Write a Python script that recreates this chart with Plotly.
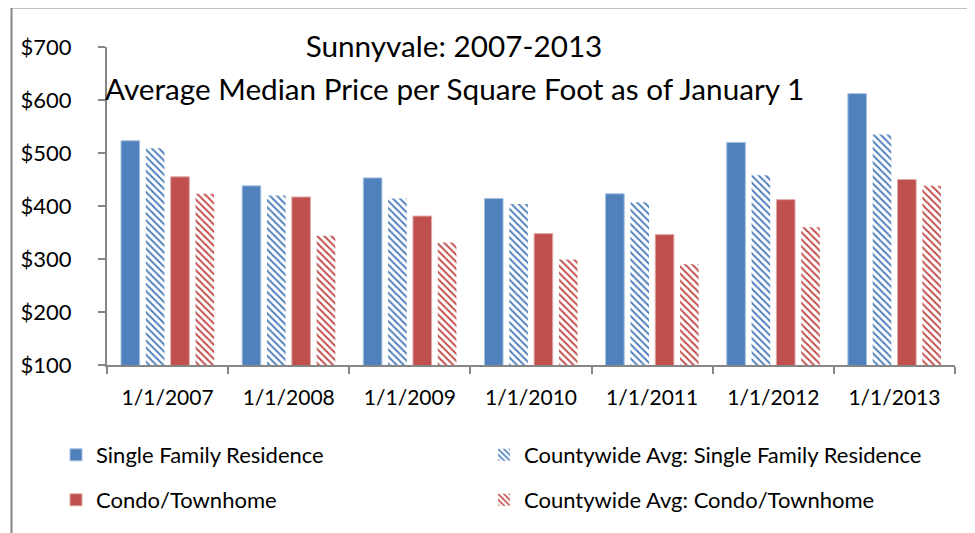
import plotly.graph_objects as go

categories = ["1/1/2007", "1/1/2008", "1/1/2009", "1/1/2010", "1/1/2011", "1/1/2012", "1/1/2013"]
sfr = [523, 438, 453, 414, 423, 520, 612]
county_sfr = [509, 420, 414, 404, 407, 458, 535]
condo = [455, 417, 381, 348, 346, 412, 450]
county_condo = [423, 344, 331, 299, 290, 360, 438]
y_ticks = [100, 200, 300, 400, 500, 600, 700]
y_tick_labels = ["$100", "$200", "$300", "$400", "$500", "$600", "$700"]

BLUE = "#4F81BD"
RED = "#C0504D"
GRAY = "#868686"
FONT = "Lato"

fig = go.Figure()
fig.add_trace(go.Bar(
    x=categories, y=sfr, name="Single Family Residence",
    marker=dict(color=BLUE, line=dict(color="#A7C0DE", width=1)),
    legend="legend",
))
fig.add_trace(go.Bar(
    x=categories, y=county_sfr, name="Countywide Avg: Single Family Residence",
    marker=dict(color=BLUE, line=dict(width=0),
                pattern=dict(shape="\\", fgcolor=BLUE, bgcolor="white",
                             size=5, solidity=0.4, fillmode="replace")),
    legend="legend3",
))
fig.add_trace(go.Bar(
    x=categories, y=condo, name="Condo/Townhome",
    marker=dict(color=RED, line=dict(color="#E0A9A7", width=1)),
    legend="legend2",
))
fig.add_trace(go.Bar(
    x=categories, y=county_condo, name="Countywide Avg: Condo/Townhome",
    marker=dict(color=RED, line=dict(width=0),
                pattern=dict(shape="\\", fgcolor=RED, bgcolor="white",
                             size=5, solidity=0.4, fillmode="replace")),
    legend="legend4",
))

# page body has an 8px default margin; work in window pixels and shift
OFF = 8
W, H = 975 - OFF, 533 - OFF
L, R, T, B = 107 - OFF, 20, 47 - OFF, 168
pw, ph = W - L - R, H - T - B

def px_x(p):
    return (p - OFF - L) / pw

def px_y(p):
    return (H - B - (p - OFF)) / ph

legend_common = dict(
    orientation="h", xanchor="left", yanchor="middle",
    font=dict(family=FONT, size=22, color="black"),
    bgcolor="rgba(0,0,0,0)",
)

fig.update_layout(
    width=W, height=H,
    margin=dict(l=L, r=R, t=T, b=B, autoexpand=False),
    paper_bgcolor="white", plot_bgcolor="white",
    font=dict(family=FONT, size=21, color="black"),
    barmode="group", bargap=0.18, bargroupgap=0.25,
    showlegend=True,
    legend=dict(x=px_x(56), y=px_y(455), **legend_common),
    legend2=dict(x=px_x(56), y=px_y(500), **legend_common),
    legend3=dict(x=px_x(484), y=px_y(455), **legend_common),
    legend4=dict(x=px_x(484), y=px_y(500), **legend_common),
    title=dict(text="Sunnyvale: 2007-2013", x=(L + px_x(454) * pw) / W,
               xanchor="center", y=1 - (47 - OFF) / H, yanchor="middle",
               font=dict(family=FONT, size=29.7, color="black")),
    annotations=[dict(
        text="Average Median Price per Square Foot as of January 1",
        xref="paper", yref="paper", x=px_x(454), y=px_y(88),
        xanchor="center", yanchor="middle", showarrow=False,
        font=dict(family=FONT, size=29.7, color="black"),
    )],
    shapes=[dict(
        type="rect", xref="paper", yref="paper",
        x0=px_x(11.5), x1=px_x(1000), y0=px_y(560), y1=px_y(7.5),
        line=dict(color=GRAY, width=2), fillcolor="rgba(0,0,0,0)",
        layer="below",
    )],
)

fig.update_xaxes(
    type="category", showline=True, linecolor=GRAY, linewidth=2,
    ticks="outside", tickson="boundaries", ticklen=7, tickcolor=GRAY, tickwidth=2,
    showgrid=False, tickfont=dict(family=FONT, size=21, color="black"),
    ticklabelstandoff=13,
)
fig.update_yaxes(
    range=[100, 700], tickvals=y_ticks, ticktext=y_tick_labels,
    showline=True, linecolor=GRAY, linewidth=2,
    ticks="outside", ticklen=7, tickcolor=GRAY, tickwidth=2,
    showgrid=False, zeroline=False,
    tickfont=dict(family=FONT, size=22, color="black"),
    ticklabelstandoff=22,
)

fig.write_html("out.html")
